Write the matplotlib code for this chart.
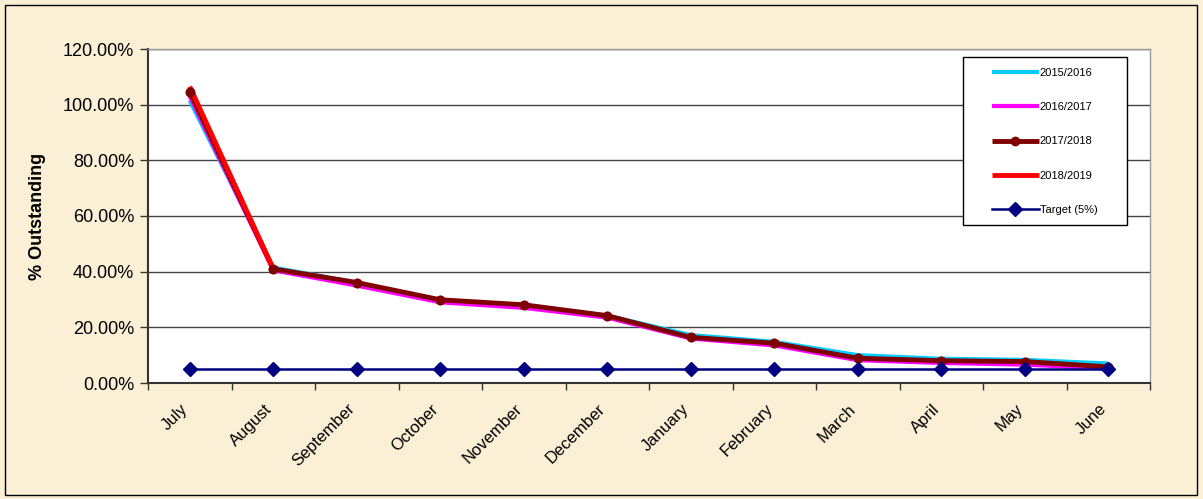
import matplotlib
matplotlib.use("Agg")
import matplotlib.pyplot as plt
import matplotlib.transforms as mtransforms
from matplotlib.patches import Rectangle
from matplotlib.ticker import FixedLocator, FuncFormatter

plt.rcParams['font.family'] = ['Liberation Sans', 'DejaVu Sans']

months = ["July", "August", "September", "October", "November", "December",
          "January", "February", "March", "April", "May", "June"]
s2015_16 = [101.5, 41.5, 36.0, 29.8, 28.0, 24.2, 17.2, 14.8, 10.0, 8.7, 8.3, 7.0]
s2016_17 = [103.0, 40.5, 35.0, 29.0, 27.0, 23.5, 16.0, 13.5, 8.2, 7.2, 6.6, 5.2]
s2017_18 = [104.6, 41.0, 36.1, 29.9, 28.1, 24.2, 16.4, 14.3, 8.9, 8.0, 7.7, 5.8]
s2018_19 = [106.5, 41.0]
target = [5, 5, 5, 5, 5, 5, 5, 5, 5, 5, 5, 5]
y_ticks = [0, 20, 40, 60, 80, 100, 120]

bg = '#FBEFD5'
fig = plt.figure(figsize=(12.03, 4.99), dpi=100, facecolor=bg)
ax = fig.add_axes([148/1203, 1 - 383/499, 1002/1203, 334/499])
ax.set_facecolor('white')

x = list(range(len(months)))
ax.plot(x, s2015_16, color='#00CCFF', lw=3, zorder=3, label='2015/2016', solid_capstyle='butt')
ax.plot(x, s2016_17, color='#FF00FF', lw=3, zorder=4, label='2016/2017', solid_capstyle='butt')
ax.plot(x, s2017_18, color='#800000', lw=3.5, zorder=5, label='2017/2018',
        marker='o', markersize=6, solid_capstyle='butt')
ax.plot(range(len(s2018_19)), s2018_19, color='#FF0000', lw=3.5, zorder=6, label='2018/2019',
        solid_capstyle='butt')
ax.plot(x, s2017_18, color='#800000', lw=0, marker='o', markersize=6, zorder=7)
ax.plot(x, target, color='#000080', lw=1.8, marker='D', markersize=7.5, zorder=8,
        label='Target (5%)')

ax.set_xlim(-0.5, 11.5)
ax.set_ylim(0, 120)
ax.yaxis.set_major_locator(FixedLocator(y_ticks))
ax.yaxis.set_major_formatter(FuncFormatter(lambda v, p: f"{v:.2f}%"))
ax.grid(axis='y', color='#444444', lw=1, zorder=1)
ax.tick_params(axis='y', direction='out', length=6, width=1, color='#333333',
               labelsize=13, pad=4)

ax.set_xticks(x)
ax.set_xticklabels(months, rotation=45, ha='right', va='center', rotation_mode='anchor',
                   fontsize=12)
ax.tick_params(axis='x', which='major', length=0, pad=17)
ax.set_xticks([i - 0.5 for i in range(len(months) + 1)], minor=True)
ax.tick_params(axis='x', which='minor', direction='out', length=5, width=1, color='#333333')
offset = mtransforms.ScaledTranslation(-4/100, 0, fig.dpi_scale_trans)
for lab in ax.get_xticklabels():
    lab.set_transform(lab.get_transform() + offset)

for side in ['left', 'bottom']:
    ax.spines[side].set_color('#333333')
    ax.spines[side].set_linewidth(1.5)
for side in ['top', 'right']:
    ax.spines[side].set_color('#999999')
    ax.spines[side].set_linewidth(1)

ax.set_ylabel('% Outstanding', fontsize=13, fontweight='bold', labelpad=12)

# legend frame drawn as separate box to match the wide padding
ax.add_patch(Rectangle(((963 - 148) / 1002, (383 - 225) / 334), 164 / 1002, 168 / 334,
                       transform=ax.transAxes, facecolor='white', edgecolor='black',
                       lw=1, zorder=9, clip_on=False))
leg = ax.legend(loc='upper left', bbox_to_anchor=((992 - 148) / 1002, (383 - 67.5) / 334),
                fontsize=8, frameon=False, labelspacing=2.2, handlelength=4.2,
                handletextpad=0.1, borderpad=0, borderaxespad=0)
leg.set_zorder(10)

fig.patches.append(Rectangle((5/1203, 4/499), 1192/1203, 490/499, transform=fig.transFigure,
                             fill=False, edgecolor='black', lw=1))

fig.savefig('out.png', dpi=100, facecolor=bg)
